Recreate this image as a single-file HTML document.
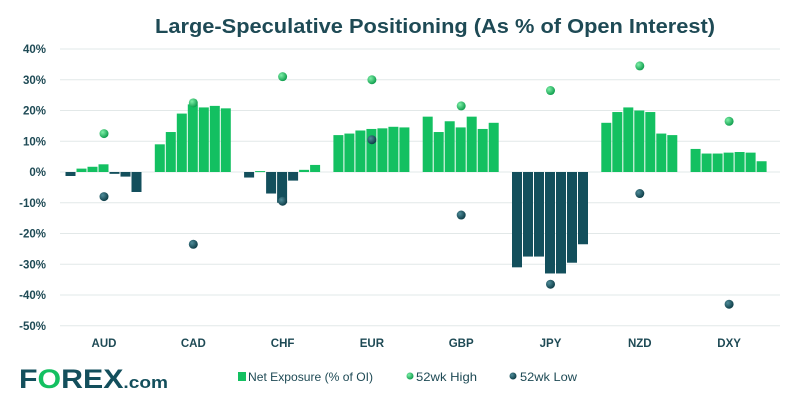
<!DOCTYPE html>
<html><head><meta charset="utf-8"><style>
body{margin:0;background:#fff;width:800px;height:400px;overflow:hidden;font-family:"Liberation Sans",sans-serif}
svg text{font-family:"Liberation Sans",sans-serif}
</style></head><body>
<svg id="c" width="800" height="400">
<defs>
<radialGradient id="gh" cx="35%" cy="35%" r="70%"><stop offset="0" stop-color="#7ff0a8"/><stop offset="1" stop-color="#0b9a4a"/></radialGradient>
<radialGradient id="gl" cx="35%" cy="35%" r="70%"><stop offset="0" stop-color="#4f8c99"/><stop offset="1" stop-color="#0b3a44"/></radialGradient>
</defs>
<text x="155" y="33" font-size="20" font-weight="bold" fill="#1e4a55" textLength="560" lengthAdjust="spacingAndGlyphs">Large-Speculative Positioning (As % of Open Interest)</text>
<g id="grid"></g><g id="bars"></g><g id="dots"></g>
<g>
<text x="19" y="388" font-size="27" font-weight="bold" fill="#134f5c" textLength="149" lengthAdjust="spacingAndGlyphs">F<tspan fill="#13c061">O</tspan>REX<tspan font-size="17">.com</tspan></text>
</g>
<g>
<rect x="238" y="372" width="8" height="9" fill="#13c061"/>
<text x="248" y="381" font-size="12" fill="#1e4a55" textLength="125" lengthAdjust="spacingAndGlyphs">Net Exposure (% of OI)</text>
<circle cx="410" cy="376" r="3.5" fill="url(#gh)"/>
<text x="416" y="381" font-size="12" fill="#1e4a55" textLength="61" lengthAdjust="spacingAndGlyphs">52wk High</text>
<circle cx="513" cy="376" r="3.5" fill="url(#gl)"/>
<text x="520" y="381" font-size="12" fill="#1e4a55" textLength="57" lengthAdjust="spacingAndGlyphs">52wk Low</text>
</g>
</svg>
<script>
const categories=["AUD","CAD","CHF","EUR","GBP","JPY","NZD","DXY"];
const netExposure=[
[-1.3,1.1,1.7,2.5,-0.6,-1.5,-6.5],
[9,13,19,22,21,21.5,20.7],
[-1.8,0.3,-7,-10,-2.8,0.7,2.3],
[12,12.5,13.5,14,14.2,14.7,14.5],
[18,13,16.5,14.5,18,14,16],
[-31,-27.5,-27.5,-33,-33,-29.5,-23.5],
[16,19.5,21,20,19.5,12.5,12],
[7.5,6,6,6.3,6.5,6.3,3.5]];
const high52=[12.5,22.5,31,30,21.5,26.5,34.5,16.5];
const low52=[-8,-23.5,-9.5,10.5,-14,-36.5,-7,-43];
const ticks=[40,30,20,10,0,-10,-20,-30,-40,-50];
const NS="http://www.w3.org/2000/svg";
const y=v=>172-v*3.075;
const cx=i=>104+i*89.3;
function mk(t,a,p){const e=document.createElementNS(NS,t);for(const k in a)e.setAttribute(k,a[k]);p.appendChild(e);return e;}
const G=document.getElementById('grid'),B=document.getElementById('bars'),D=document.getElementById('dots');
ticks.forEach(t=>{
 const l=mk('line',{x1:60,x2:780,y1:y(t),y2:y(t),stroke:'#e2e8e8','stroke-width':1},G);
 
 
 const tx=mk('text',{x:46,y:y(t)+4,'text-anchor':'end','font-size':11.5,'font-weight':'bold',fill:'#1e4a55'},G);
 tx.textContent=t+'%';
 
 
});
categories.forEach((c,i)=>{
 const tx=mk('text',{x:cx(i),y:347,'text-anchor':'middle','font-size':11.5,'font-weight':'bold',fill:'#1e4a55'},G);
 tx.textContent=c;
 
 
 netExposure[i].forEach((v,j)=>{
  const x=cx(i)-38.5+j*11;
  const r=mk('rect',{x:x,y:Math.min(y(v),y(0)),width:10,height:Math.max(Math.abs(y(v)-y(0)),1),fill:v>=0?'#13c061':'#134f5c'},B);
  
  
 });
 const h=mk('circle',{cx:cx(i),cy:y(high52[i]),r:4.5,fill:'url(#gh)'},D);
 
 
 const lo=mk('circle',{cx:cx(i),cy:y(low52[i]),r:4.5,fill:'url(#gl)'},D);
 
 
});
</script>
</body></html>
